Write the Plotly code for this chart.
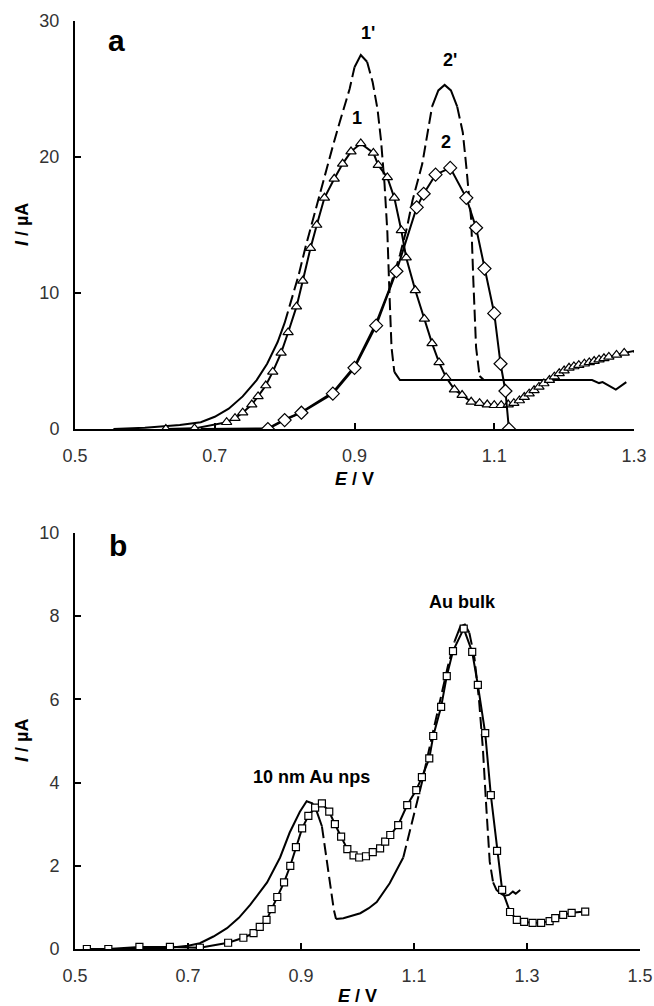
import plotly.graph_objects as go

# ---------------- Panel a data ----------------
# curve 1 (solid, open triangles)
a1_E = [0.630, 0.671, 0.717, 0.729, 0.740, 0.753, 0.762, 0.773, 0.783, 0.795, 0.805, 0.817,
        0.826, 0.837, 0.846, 0.857, 0.871, 0.883, 0.895, 0.909, 0.927, 0.934, 0.947, 0.957,
        0.967, 0.974, 0.987, 1.000, 1.011, 1.021, 1.031, 1.043, 1.054, 1.067, 1.079, 1.090,
        1.100, 1.110, 1.120, 1.128, 1.136, 1.143, 1.150, 1.157, 1.164, 1.171, 1.179, 1.186,
        1.193, 1.200, 1.207, 1.214, 1.221, 1.229, 1.236, 1.243, 1.250, 1.257, 1.264, 1.275,
        1.286, 1.307]
a1_I = [0.0, 0.05, 0.5, 0.8, 1.2, 1.8, 2.4, 3.2, 4.2, 5.6, 7.1, 9.0,
        10.9, 13.3, 15.0, 17.0, 18.4, 19.5, 20.4, 21.0, 20.3, 19.4, 18.5, 17.0,
        14.6, 12.6, 10.2, 8.1, 6.3, 4.9, 3.8, 2.9, 2.5, 2.0, 1.9, 1.8,
        1.75, 1.75, 1.8, 1.9, 2.1, 2.35, 2.6, 2.85, 3.1, 3.35, 3.6, 3.85,
        4.1, 4.3, 4.5, 4.6, 4.7, 4.8, 4.9, 5.0, 5.1, 5.2, 5.3, 5.45,
        5.6, 5.8]

# curve 2 (solid, open diamonds)
a2_E = [0.776, 0.800, 0.824, 0.869, 0.900, 0.931, 0.960, 0.989, 0.999, 1.016, 1.037,
        1.060, 1.074, 1.086, 1.100, 1.109, 1.116, 1.121]
a2_I = [0.0, 0.66, 1.2, 2.6, 4.5, 7.6, 11.6, 16.3, 17.3, 18.7, 19.2,
        17.0, 14.8, 11.8, 8.5, 4.8, 2.8, 0.0]

# curve 1' (dashed) with its flat tail
a1p_E = [0.555, 0.600, 0.650, 0.680, 0.700, 0.720, 0.740, 0.760, 0.775, 0.790, 0.800,
         0.810, 0.820, 0.830, 0.840, 0.850, 0.860, 0.869, 0.879, 0.893, 0.900, 0.909,
         0.918, 0.926, 0.933, 0.938, 0.943, 0.947, 0.950, 0.953, 0.957, 0.965, 1.240,
         1.250, 1.255, 1.264, 1.274, 1.289]
a1p_I = [0.0, 0.1, 0.3, 0.5, 0.9, 1.5, 2.4, 3.6, 4.8, 6.4, 7.8,
         9.5, 11.3, 13.4, 15.3, 17.2, 19.2, 20.8, 22.6, 25.0, 26.6, 27.5,
         27.0, 25.5, 23.5, 21.2, 18.0, 14.5, 10.0, 6.0, 4.2, 3.6, 3.6,
         3.38, 3.45, 3.2, 2.9, 3.45]

# curve 2' (dashed)
a2p_E = [0.680, 0.720, 0.776, 0.800, 0.824, 0.869, 0.900, 0.931, 0.950, 0.965, 0.975,
         0.983, 0.997, 1.004, 1.011, 1.020, 1.029, 1.038, 1.047, 1.055, 1.060, 1.067,
         1.070, 1.074, 1.079, 1.085]
a2p_I = [0.0, 0.0, 0.05, 0.7, 1.25, 2.7, 4.6, 7.8, 10.3, 12.8, 14.8,
         16.8, 19.5, 21.5, 23.7, 24.9, 25.3, 24.9, 23.7, 21.8, 19.3, 15.4,
         11.0, 6.0, 3.9, 3.6]

a_labels = ["1'", "1", "2'", "2"]
a_label_E = [0.919, 0.903, 1.036, 1.031]
a_label_I = [29.1, 22.9, 27.1, 21.1]

a_xticks = [0.5, 0.7, 0.9, 1.1, 1.3]
a_xticktext = ["0.5", "0.7", "0.9", "1.1", "1.3"]
a_yticks = [0, 10, 20, 30]

# ---------------- Panel b data ----------------
# curve with open squares
bs_E = [0.521, 0.559, 0.614, 0.668, 0.721, 0.771, 0.798, 0.816, 0.827, 0.839, 0.848, 0.858,
        0.870, 0.881, 0.891, 0.902, 0.913, 0.925, 0.937, 0.950, 0.960, 0.971, 0.982, 0.993,
        1.003, 1.015, 1.027, 1.040, 1.049, 1.058, 1.072, 1.088, 1.104, 1.114, 1.127, 1.134,
        1.148, 1.158, 1.169, 1.188, 1.203, 1.213, 1.226, 1.236, 1.247, 1.256, 1.270, 1.282,
        1.295, 1.310, 1.325, 1.340, 1.350, 1.364, 1.379, 1.403]
bs_I = [0.0, 0.0, 0.05, 0.05, 0.03, 0.15, 0.27, 0.38, 0.53, 0.70, 0.96, 1.25,
        1.6, 2.0, 2.45, 2.9, 3.2, 3.4, 3.5, 3.3, 3.0, 2.7, 2.4, 2.25,
        2.2, 2.23, 2.33, 2.42, 2.58, 2.74, 2.98, 3.46, 3.82, 4.13, 4.58, 5.12,
        5.82, 6.56, 7.16, 7.7, 7.14, 6.35, 5.19, 3.7, 2.36, 1.42, 0.89, 0.7,
        0.65, 0.63, 0.63, 0.67, 0.74, 0.82, 0.87, 0.9]

# curve without markers (dashed where steep)
bl_E = [0.520, 0.600, 0.660, 0.700, 0.721, 0.745, 0.769, 0.790, 0.810, 0.840, 0.863, 0.880,
        0.898, 0.910, 0.920, 0.928, 0.937, 0.943, 0.949, 0.955, 0.958, 0.962, 0.975, 0.990,
        1.005, 1.020, 1.034, 1.057, 1.081, 1.098, 1.114, 1.130, 1.145, 1.160, 1.172, 1.182,
        1.190, 1.198, 1.207, 1.215, 1.222, 1.228, 1.234, 1.240, 1.246, 1.252, 1.260, 1.268,
        1.275, 1.280, 1.288]
bl_I = [0.0, 0.0, 0.02, 0.08, 0.14, 0.3, 0.5, 0.75, 1.06, 1.6, 2.2, 2.8,
        3.3, 3.55, 3.5, 3.3, 2.95, 2.4, 1.8, 1.3, 0.95, 0.72, 0.74, 0.8,
        0.86, 0.98, 1.13, 1.58, 2.2, 3.1, 4.0, 5.0, 5.9, 6.8, 7.4, 7.75,
        7.8, 7.6, 7.0, 6.0, 4.8, 3.4, 2.1, 1.6, 1.42, 1.35, 1.28, 1.3,
        1.38, 1.33, 1.42]

b_labels = ["10 nm Au nps", "Au bulk"]
b_label_E = [0.919, 1.185]
b_label_I = [4.13, 8.34]

b_xticks = [0.5, 0.7, 0.9, 1.1, 1.3, 1.5]
b_xticktext = ["0.5", "0.7", "0.9", "1.1", "1.3", "1.5"]
b_yticks = [0, 2, 4, 6, 8, 10]

# ---------------- layout geometry ----------------
W, H = 654, 1006
M = dict(l=75, r=14, t=21, b=57)
PW = W - M['l'] - M['r']
PH = H - M['t'] - M['b']
a_xdom, a_ydom = [0, 559 / 565], [0.5603, 1.0]
b_xdom, b_ydom = [0, 1.0], [0, 0.4483]
a_xr, a_yr = [0.5, 1.3], [0, 30]
b_xr, b_yr = [0.5, 1.5], [0, 10]

FONT = "Liberation Sans, Arial, sans-serif"
DASH = "12px,5px"


def scales(xdom, ydom, xr, yr):
    sx = PW * (xdom[1] - xdom[0]) / (xr[1] - xr[0])
    sy = PH * (ydom[1] - ydom[0]) / (yr[1] - yr[0])
    return sx, sy


def runs(E, I, sx, sy, thr=3.0):
    out, start, cur = [], 0, None
    for k in range(len(E) - 1):
        dx = abs(E[k + 1] - E[k]) * sx
        dy = abs(I[k + 1] - I[k]) * sy
        steep = dy > thr * max(dx, 1e-9)
        if cur is None:
            cur = steep
        elif steep != cur:
            out.append((start, k, cur))
            start, cur = k, steep
    out.append((start, len(E) - 1, cur))
    return out


fig = go.Figure()


def add_mixed(E, I, xa, ya, sc):
    for i0, i1, steep in runs(E, I, *sc):
        fig.add_trace(go.Scatter(
            x=E[i0:i1 + 1], y=I[i0:i1 + 1], mode="lines", xaxis=xa, yaxis=ya,
            line=dict(color="black", width=2, dash=DASH if steep else "solid"),
            showlegend=False, hoverinfo="skip"))


sa = scales(a_xdom, a_ydom, a_xr, a_yr)
sb = scales(b_xdom, b_ydom, b_xr, b_yr)

add_mixed(a1p_E, a1p_I, "x", "y", sa)
add_mixed(a2p_E, a2p_I, "x", "y", sa)

fig.add_trace(go.Scatter(x=a1_E, y=a1_I, mode="lines+markers", xaxis="x", yaxis="y",
                         line=dict(color="black", width=2),
                         marker=dict(symbol="triangle-up", size=9, color="white",
                                     line=dict(color="black", width=1.2)),
                         showlegend=False))
fig.add_trace(go.Scatter(x=a2_E, y=a2_I, mode="lines+markers", xaxis="x", yaxis="y",
                         line=dict(color="black", width=2),
                         marker=dict(symbol="diamond", size=10, color="white",
                                     line=dict(color="black", width=1.2)),
                         showlegend=False))

add_mixed(bl_E, bl_I, "x2", "y2", sb)
fig.add_trace(go.Scatter(x=bs_E, y=bs_I, mode="lines+markers", xaxis="x2", yaxis="y2",
                         line=dict(color="black", width=2),
                         marker=dict(symbol="square", size=7, color="white",
                                     line=dict(color="black", width=1.2)),
                         showlegend=False))

axis_common = dict(showline=True, linecolor="black", linewidth=2, mirror=False,
                   ticks="inside", ticklen=6, tickwidth=2, tickcolor="black",
                   showgrid=False, zeroline=False, automargin=False,
                   tickfont=dict(family=FONT, size=18, color="#333333"))

fig.update_layout(
    width=W, height=H, margin=dict(M, autoexpand=False), autosize=False,
    plot_bgcolor="white", paper_bgcolor="white",
    xaxis=dict(domain=a_xdom, range=a_xr, tickvals=a_xticks, ticktext=a_xticktext,
               anchor="y", ticklabelstandoff=9, **axis_common),
    yaxis=dict(domain=a_ydom, range=a_yr, tickvals=a_yticks, anchor="x",
               ticklabelstandoff=10, **axis_common),
    xaxis2=dict(domain=b_xdom, range=b_xr, tickvals=b_xticks, ticktext=b_xticktext,
                anchor="y2", ticklabelstandoff=9, **axis_common),
    yaxis2=dict(domain=b_ydom, range=b_yr, tickvals=b_yticks, anchor="x2",
                ticklabelstandoff=10, **axis_common),
)

ann = []
for t, e, i in zip(a_labels, a_label_E, a_label_I):
    ann.append(dict(x=e, y=i, xref="x", yref="y", text="<b>%s</b>" % t, showarrow=False,
                    xanchor="center", yanchor="middle",
                    font=dict(family=FONT, size=18, color="black")))
for t, e, i in zip(b_labels, b_label_E, b_label_I):
    ann.append(dict(x=e, y=i, xref="x2", yref="y2", text="<b>%s</b>" % t, showarrow=False,
                    xanchor="center", yanchor="middle",
                    font=dict(family=FONT, size=18, color="black")))
# panel letters
ann.append(dict(x=0.075, y=0.953, xref="x domain", yref="y domain", text="<b>a</b>",
                xanchor="center", yanchor="middle",
                showarrow=False, font=dict(family=FONT, size=30, color="black")))
ann.append(dict(x=0.076, y=0.971, xref="x2 domain", yref="y2 domain", text="<b>b</b>",
                xanchor="center", yanchor="middle",
                showarrow=False, font=dict(family=FONT, size=30, color="black")))
# axis titles
for xr_, yr_, yoff in (("x domain", "y domain", -50), ("x2 domain", "y2 domain", -47)):
    ann.append(dict(x=0.5, y=0, xref=xr_, yref=yr_, yshift=yoff, text="<b><i>E</i> / V</b>",
                    xanchor="center", yanchor="middle",
                    showarrow=False, font=dict(family=FONT, size=18, color="black")))
for yr_ in ("y domain", "y2 domain"):
    ann.append(dict(x=0, y=0.5, xref="paper", yref=yr_, xshift=-53, textangle=-90,
                    xanchor="center", yanchor="middle",
                    text="<b><i>I</i> / µA</b>", showarrow=False,
                    font=dict(family=FONT, size=18, color="black")))
fig.update_layout(annotations=ann)

# remove the default page margin and scrollbars so the figure fills the window exactly
fig.write_html("out.html", config={"displayModeBar": False, "responsive": False},
               post_script="document.body.style.margin='0';"
                           "document.body.style.overflow='hidden';")
